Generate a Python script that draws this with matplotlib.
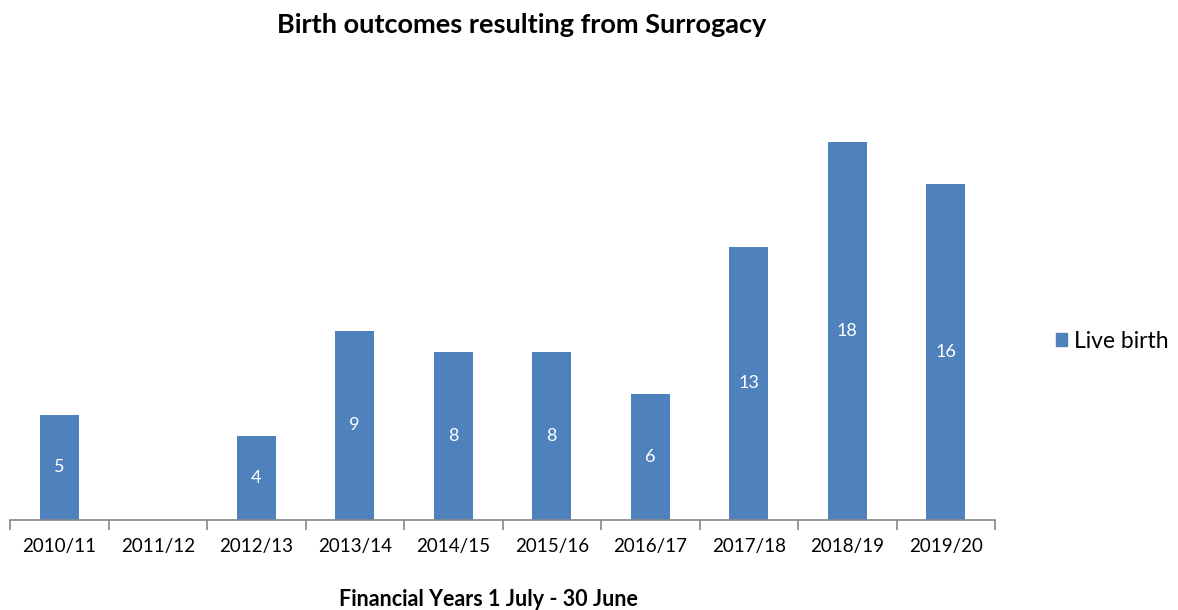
import matplotlib
matplotlib.use("Agg")
import matplotlib.pyplot as plt
from matplotlib.patches import Patch

categories = ["2010/11", "2011/12", "2012/13", "2013/14", "2014/15",
              "2015/16", "2016/17", "2017/18", "2018/19", "2019/20"]
live_birth = [5, 0, 4, 9, 8, 8, 6, 13, 18, 16]

plt.rcParams['font.family'] = ['Lato', 'DejaVu Sans']
BAR = "#4F81BD"

fig = plt.figure(figsize=(11.78, 6.10), dpi=100)
ax = fig.add_axes([10/1178, 90/610, 985/1178, 420/610])

x = list(range(len(categories)))
ax.bar(x, live_birth, width=0.4, color=BAR, zorder=2)
for xi, v in zip(x, live_birth):
    if v > 0:
        ax.text(xi, v / 2, str(v), ha="center", va="center", color="white", fontsize=13)

ax.set_xlim(-0.5, len(categories) - 0.5)
ax.set_ylim(0, 20)
for s in ["top", "right", "left"]:
    ax.spines[s].set_visible(False)
ax.spines["bottom"].set_color("#868686")
ax.spines["bottom"].set_linewidth(1.2)
ax.set_yticks([])
ax.set_xticks([i - 0.5 for i in range(len(categories) + 1)], minor=False)
ax.set_xticklabels([])
ax.tick_params(axis="x", which="major", length=7, color="#868686", width=1.2, direction="out")
ax.set_xticks(x, minor=True)
ax.set_xticklabels(categories, minor=True, fontsize=13.5)
ax.tick_params(axis="x", which="minor", length=0, pad=13)

fig.text(522/1178, 1 - 25/610, "Birth outcomes resulting from Surrogacy",
         ha="center", va="center", fontsize=19.5, fontweight="bold")
fig.text(488/1178, 1 - 600/610, "Financial Years 1 July - 30 June",
         ha="center", va="center", fontsize=15.5, fontweight="bold")

fig.legend(handles=[Patch(color=BAR, label="Live birth")], loc="center left",
           bbox_to_anchor=(1035/1178, 1 - 341/610), frameon=False, fontsize=16.5,
           handlelength=0.5, handleheight=0.5, handletextpad=0.3)

fig.savefig("out.png", dpi=100)
